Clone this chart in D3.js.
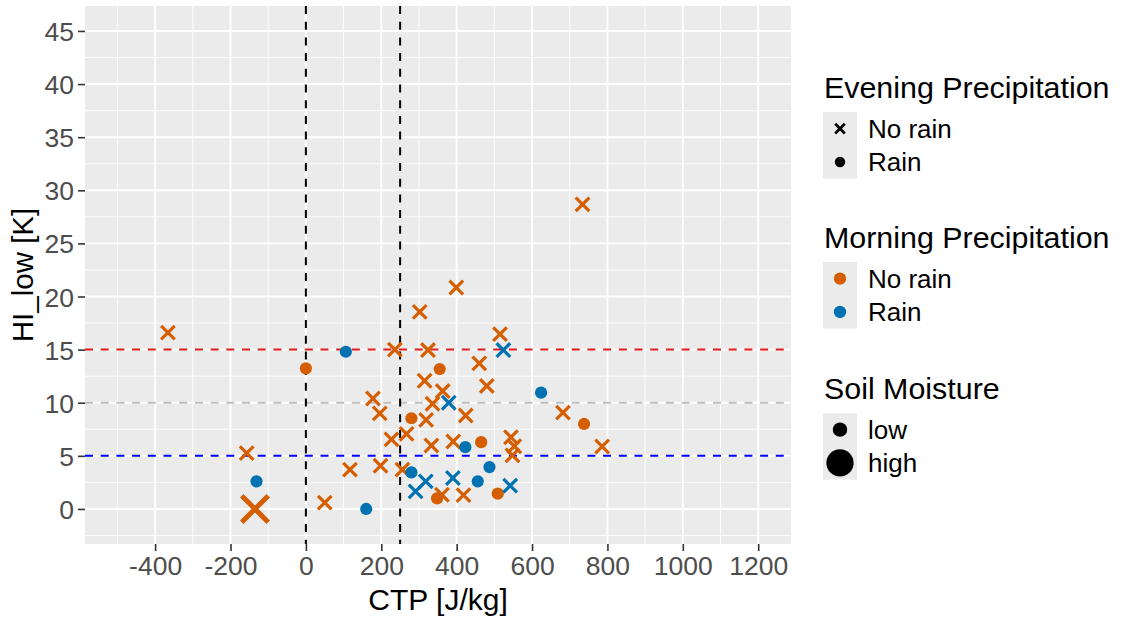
<!DOCTYPE html>
<html>
<head>
<meta charset="utf-8">
<script src="https://cdn.jsdelivr.net/npm/d3@7"></script>
<style>
  html, body { margin: 0; padding: 0; background: #fff; }
  svg { display: block; font-family: "Liberation Sans", Arial, sans-serif; }
</style>
</head>
<body>
<svg id="chart" width="1122" height="624"></svg>
<script>
// CTP [J/kg] of each case
const ctp = [
  -366, -157, -135, 50, 117, 178, 196, 198, 227, 236, 256, 267, 302, 315, 319, 324,
  333, 336, 361, 363, 391, 399, 418, 424, 460, 480, 515, 544, 553, 548, 682, 734, 786,
  0, 280, 355, 348, 465, 509, 738,
  -131, 106, 160, 280, 423, 456, 487, 624,
  291, 318, 379, 390, 524, 542
];
// HI_low [K] of each case
const hiLow = [
  16.6, 5.26, 0.0, 0.6, 3.7, 10.4, 9.0, 4.07, 6.55, 15.0, 3.7, 7.07, 18.55, 12.07, 8.38, 14.96,
  5.97, 9.9, 1.34, 11.1, 6.35, 20.85, 1.3, 8.8, 13.7, 11.58, 16.46, 6.75, 5.9, 5.05, 9.07, 28.67, 5.88,
  13.24, 8.54, 13.17, 1.0, 6.29, 1.44, 8.0,
  2.6, 14.8, 0.0, 3.44, 5.82, 2.6, 3.94, 10.95,
  1.66, 2.6, 10.0, 2.91, 14.96, 2.19
];
// Evening precipitation (shape)
const evening = [].concat(
  Array(33).fill("No rain"), Array(7).fill("Rain"), Array(8).fill("Rain"), Array(6).fill("No rain")
);
// Morning precipitation (colour)
const morning = [].concat(
  Array(33).fill("No rain"), Array(7).fill("No rain"), Array(8).fill("Rain"), Array(6).fill("Rain")
);
// Soil moisture (size)
const soil = ctp.map((_, i) => (i === 2 ? "high" : "low"));

const precipLevels = ["No rain", "Rain"];
const soilLevels = ["low", "high"];
const xTicks = [-400, -200, 0, 200, 400, 600, 800, 1000, 1200];
const yTicks = [0, 5, 10, 15, 20, 25, 30, 35, 40, 45];
const vRefs = [0, 250];
const hRefs = [
  { value: 15, color: "#E41A1C" },
  { value: 10, color: "#BEBEBE" },
  { value: 5, color: "#0000FF" }
];

const data = ctp.map((c, i) => ({
  ctp: c, hi: hiLow[i], evening: evening[i], morning: morning[i], soil: soil[i]
}));

const svg = d3.select("#chart");
const panel = { left: 85, right: 791, top: 6, bottom: 544 };

const x = d3.scaleLinear().domain([-586, 1287]).range([panel.left, panel.right]);
const y = d3.scaleLinear().domain([-3.3, 47.35]).range([panel.bottom, panel.top]);
const color = d3.scaleOrdinal().domain(precipLevels).range(["#D55E00", "#0072B2"]);
const sizeScale = d3.scaleOrdinal().domain(soilLevels).range([1, 1.95]);

// panel background
svg.append("rect")
  .attr("x", panel.left).attr("y", panel.top)
  .attr("width", panel.right - panel.left).attr("height", panel.bottom - panel.top)
  .attr("fill", "#EBEBEB");

const grid = svg.append("g");
// minor grid
const xMinor = d3.range(-500, 1300, 200);
const yMinor = d3.range(-2.5, 47.5, 5);
grid.selectAll(".xminor").data(xMinor).join("line")
  .attr("x1", d => x(d)).attr("x2", d => x(d))
  .attr("y1", panel.top).attr("y2", panel.bottom)
  .attr("stroke", "#fff").attr("stroke-width", 0.9);
grid.selectAll(".yminor").data(yMinor).join("line")
  .attr("y1", d => y(d)).attr("y2", d => y(d))
  .attr("x1", panel.left).attr("x2", panel.right)
  .attr("stroke", "#fff").attr("stroke-width", 0.9);
// major grid
grid.selectAll(".xmajor").data(xTicks).join("line")
  .attr("x1", d => x(d)).attr("x2", d => x(d))
  .attr("y1", panel.top).attr("y2", panel.bottom)
  .attr("stroke", "#fff").attr("stroke-width", 1.9);
grid.selectAll(".ymajor").data(yTicks).join("line")
  .attr("y1", d => y(d)).attr("y2", d => y(d))
  .attr("x1", panel.left).attr("x2", panel.right)
  .attr("stroke", "#fff").attr("stroke-width", 1.9);

// reference lines
svg.append("g").selectAll("line").data(hRefs).join("line")
  .attr("x1", panel.left).attr("x2", panel.right)
  .attr("y1", d => y(d.value)).attr("y2", d => y(d.value))
  .attr("stroke", d => d.color).attr("stroke-width", 2)
  .attr("stroke-dasharray", "8,7.7");
svg.append("g").selectAll("line").data(vRefs).join("line")
  .attr("x1", d => x(d)).attr("x2", d => x(d))
  .attr("y1", panel.top).attr("y2", panel.bottom)
  .attr("stroke", "#000").attr("stroke-width", 2)
  .attr("stroke-dasharray", "8,7.7");

// points
function crossPath(cx, cy, h) {
  return `M${cx - h},${cy - h}L${cx + h},${cy + h}M${cx - h},${cy + h}L${cx + h},${cy - h}`;
}
const pts = svg.append("g");
data.forEach(d => {
  const k = sizeScale(d.soil);
  const cx = x(d.ctp), cy = y(d.hi);
  if (d.evening === "No rain") {
    pts.append("path")
      .attr("d", crossPath(cx, cy, 6.8 * k))
      .attr("stroke", color(d.morning))
      .attr("stroke-width", 3.2 * (k > 1 ? 1.55 : 1))
      .attr("fill", "none");
  } else {
    pts.append("circle")
      .attr("cx", cx).attr("cy", cy).attr("r", 6.1 * k)
      .attr("fill", color(d.morning));
  }
});

// axes (plain hyphen-minus for negative labels)
const plain = d => String(d);
const xAxis = d3.axisBottom(x).tickValues(xTicks).tickSize(7).tickPadding(5).tickFormat(plain);
const yAxis = d3.axisLeft(y).tickValues(yTicks).tickSize(7).tickPadding(4).tickFormat(plain);
const gx = svg.append("g").attr("transform", `translate(0,${panel.bottom})`).call(xAxis);
const gy = svg.append("g").attr("transform", `translate(${panel.left},0)`).call(yAxis);
[gx, gy].forEach(g => {
  g.select(".domain").remove();
  g.selectAll(".tick line").attr("stroke", "#333").attr("stroke-width", 1.6);
  g.selectAll(".tick text").attr("fill", "#4D4D4D").style("font-size", "26.5px")
    .style("font-family", "'Liberation Sans', Arial, sans-serif");
});
gx.selectAll(".tick text").attr("dy", "0.71em");
gy.selectAll(".tick text").attr("dy", "0.36em");

// axis titles
svg.append("text")
  .attr("x", (panel.left + panel.right) / 2).attr("y", 610)
  .attr("text-anchor", "middle").style("font-size", "30px").attr("fill", "#000")
  .text("CTP [J/kg]");
svg.append("text")
  .attr("transform", `translate(33,${(panel.top + panel.bottom) / 2}) rotate(-90)`)
  .attr("text-anchor", "middle").style("font-size", "29.5px").attr("fill", "#000")
  .text("HI_low [K]");

// legends
const legend = svg.append("g");
const keyX = 823, keyW = 34, keyH = 33.3, labelX = 868;
function legendBlock(title, titleY, keyTop, items, drawKey) {
  legend.append("text").attr("x", 824).attr("y", titleY)
    .style("font-size", "30.4px").attr("fill", "#000").text(title);
  legend.append("rect").attr("x", keyX).attr("y", keyTop)
    .attr("width", keyW).attr("height", keyH * items.length).attr("fill", "#EBEBEB");
  items.forEach((it, i) => {
    const cy = keyTop + keyH * (i + 0.5);
    drawKey(it, keyX + keyW / 2, cy);
    legend.append("text").attr("x", labelX).attr("y", cy).attr("dy", "0.36em")
      .style("font-size", "26px").attr("fill", "#000").text(it);
  });
}
legendBlock("Evening Precipitation", 98, 112, precipLevels, (lv, cx, cy) => {
  if (lv === "No rain") {
    legend.append("path").attr("d", crossPath(cx, cy, 4.8))
      .attr("stroke", "#000").attr("stroke-width", 2.8).attr("fill", "none");
  } else {
    legend.append("circle").attr("cx", cx).attr("cy", cy).attr("r", 5.2).attr("fill", "#000");
  }
});
legendBlock("Morning Precipitation", 248, 262, precipLevels, (lv, cx, cy) => {
  legend.append("circle").attr("cx", cx).attr("cy", cy).attr("r", 6.2).attr("fill", color(lv));
});
legendBlock("Soil Moisture", 399, 413, soilLevels, (lv, cx, cy) => {
  legend.append("circle").attr("cx", cx).attr("cy", cy)
    .attr("r", lv === "low" ? 7.2 : 13.6).attr("fill", "#000");
});
</script>
</body>
</html>
